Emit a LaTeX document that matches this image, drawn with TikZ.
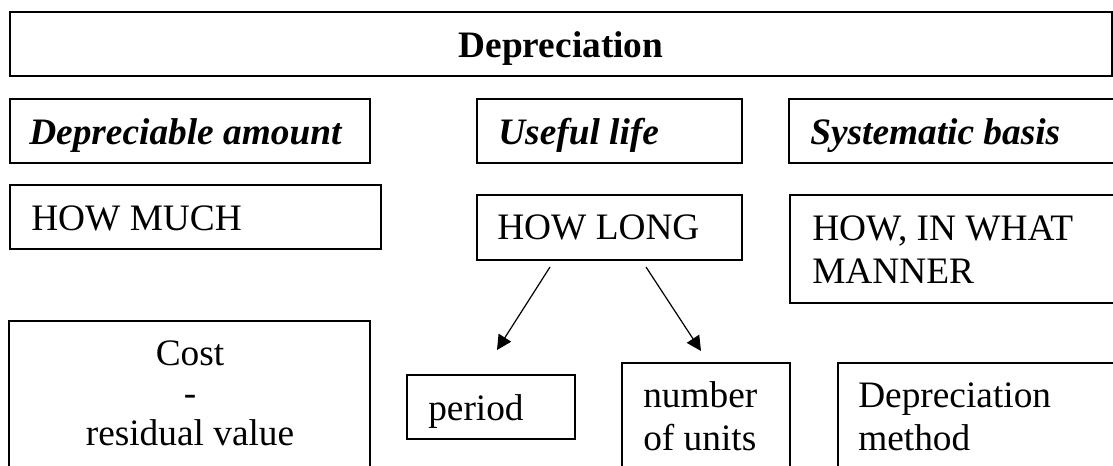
\documentclass[tikz,border=0pt]{standalone}
\usepackage{fontspec}
\setmainfont{Liberation Serif}
\usetikzlibrary{arrows.meta,fit}
\begin{document}
\begin{tikzpicture}[x=0.75pt,y=-0.75pt,
  box/.style={draw, line width=1.2pt, inner sep=0pt},
  txt/.style={anchor=base west, inner sep=0pt, font=\fontsize{28}{34}\selectfont},
  ctxt/.style={txt, anchor=base},
  head/.style={txt, font=\fontsize{28}{34}\selectfont\bfseries\itshape},
  title/.style={ctxt, font=\fontsize{28}{34}\selectfont\bfseries},
  arr/.style={line width=0.9pt, -{Triangle[length=11pt,width=11pt]}}]
\useasboundingbox (0,0) rectangle (1113,465);
\clip (0,0) rectangle (1113,465);

% title bar
\node[box, fit={(10,12)(1112,76)}] (top) {};
\node[title] (topt) at (561,57) {Depreciation};

% second row: the three elements
\node[box, fit={(10,99)(370,163)}] (amt) {};
\node[head] (amtt) at (29,144) {Depreciable amount};
\node[box, fit={(477,99)(742,163)}] (life) {};
\node[head] (lifet) at (498,144) {Useful life};
\node[box, fit={(789,99)(1130,163)}] (basis) {};
\node[head] (basist) at (810,144) {Systematic basis};

% third row: the questions
\node[box, fit={(10,185)(381,249)}] (much) {};
\node[txt] (mucht) at (31,230) {HOW MUCH};
\node[box, fit={(477,195)(742,260)}] (long) {};
\node[txt] (longt) at (497,239) {HOW LONG};
\node[box, fit={(790,195)(1130,303)}] (how) {};
\node[txt] (howt1) at (812,240) {HOW, IN WHAT};
\node[txt] (howt2) at (812,283) {MANNER};

% bottom row
\node[box, fit={(9,321)(370,480)}] (cost) {};
\node[ctxt] (costt1) at (190,365) {Cost};
\node[ctxt] (costt2) at (190,405) {-};
\node[ctxt] (costt3) at (190,445) {residual value};
\node[box, fit={(407,375)(575,439)}] (period) {};
\node[txt] (periodt) at (428,420) {period};
\node[box, fit={(622,363)(790,480)}] (units) {};
\node[txt] (unitst1) at (643,407) {number};
\node[txt] (unitst2) at (643,450) {of units};
\node[box, fit={(838,363)(1130,480)}] (method) {};
\node[txt] (methodt1) at (858,407) {Depreciation};
\node[txt] (methodt2) at (858,450) {method};

% arrows from HOW LONG
\coordinate (a1s) at (550,267);
\coordinate (a1e) at (497,350);
\coordinate (a2s) at (646,267);
\coordinate (a2e) at (701,351);
\draw[arr] (a1s) -- (a1e);
\draw[arr] (a2s) -- (a2e);
\end{tikzpicture}
\end{document}
